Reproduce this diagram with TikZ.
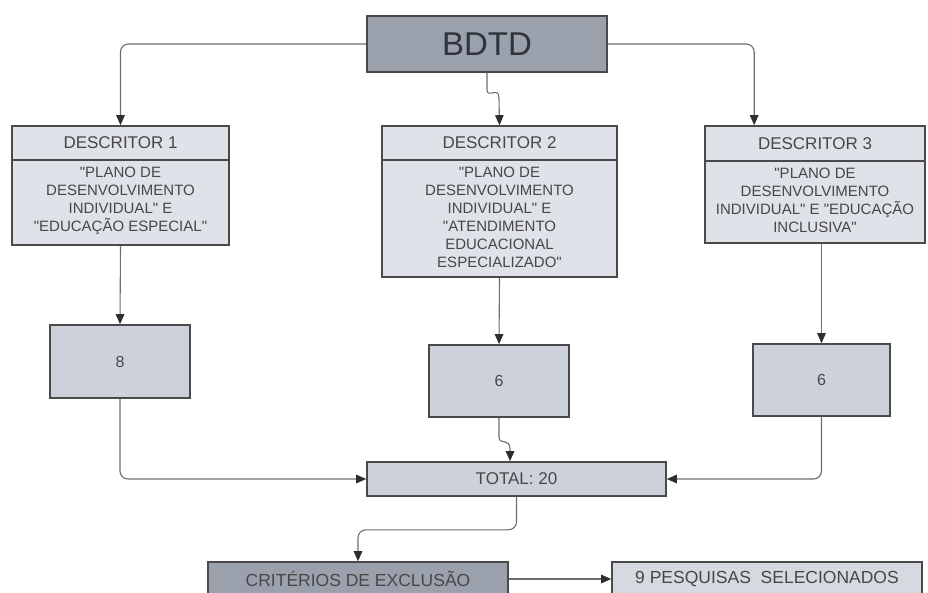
\documentclass[tikz,border=0pt]{standalone}
\usepackage{fontspec}
\setmainfont{Liberation Sans}[Ligatures=TeXOff]
\usetikzlibrary{arrows.meta,calc}
\definecolor{bordercol}{HTML}{4A4A4A}
\definecolor{darkfill}{HTML}{9BA1AC}
\definecolor{lightfill}{HTML}{DFE2E8}
\definecolor{midfill}{HTML}{CDD2DA}
\definecolor{selfill}{HTML}{D5D9E0}
\definecolor{linecol}{HTML}{6E6E6E}
\definecolor{tipcol}{HTML}{2E2E2E}
\definecolor{textcol}{HTML}{474747}
\definecolor{bigtext}{HTML}{2F343C}
\begin{document}
\begin{tikzpicture}[x=1pt,y=-1pt,
  box/.style={draw=bordercol, line width=1.6pt, inner sep=0pt, align=center, text=textcol},
  darkbox/.style={box, fill=darkfill},
  dbox/.style={box, fill=lightfill},
  numbox/.style={box, fill=midfill, font=\fontsize{16}{19}\selectfont},
  headtxt/.style={inner sep=0pt, text=textcol, font=\fontsize{17}{20}\selectfont},
  bodytxt/.style={inner sep=0pt, align=center, text=textcol, font=\fontsize{15}{18}\selectfont},
  divline/.style={draw=bordercol, line width=1.4pt},
  conn/.style={draw=linecol, line width=1.1pt, rounded corners=8pt,
    -{Triangle[length=10pt,width=8.5pt,color=tipcol]}}
]
\useasboundingbox (0,0) rectangle (928,593);
\clip (0,0) rectangle (928,593);
\fill[white] (0,0) rectangle (928,593);

% top box
\node[darkbox, minimum width=240pt, minimum height=56pt, text=bigtext,
      font=\fontsize{33}{36}\selectfont] (bdtd) at (487,44) {BDTD};

% descriptor boxes
\node[dbox, minimum width=217pt, minimum height=119pt] (d1) at (120.5,185.5) {};
\coordinate (d1div) at ($(d1.north)+(0,35)$);
\draw[divline] ($(d1.north west)+(0,35)$) -- ($(d1.north east)+(0,35)$);
\node[headtxt] (d1h) at ($(d1.north)+(0,17.5)$) {DESCRITOR 1};
\node[bodytxt] (d1b) at ($(d1div)!0.5!(d1.south)+(0,-2)$)
  {"PLANO DE\\DESENVOLVIMENTO\\INDIVIDUAL" E\\"EDUCAÇÃO ESPECIAL"};

\node[dbox, minimum width=235pt, minimum height=151pt] (d2) at (499.5,201.5) {};
\coordinate (d2div) at ($(d2.north)+(0,35)$);
\draw[divline] ($(d2.north west)+(0,35)$) -- ($(d2.north east)+(0,35)$);
\node[headtxt] (d2h) at ($(d2.north)+(0,17.5)$) {DESCRITOR 2};
\node[bodytxt] (d2b) at ($(d2div)!0.5!(d2.south)+(0,-2)$)
  {"PLANO DE\\DESENVOLVIMENTO\\INDIVIDUAL" E\\"ATENDIMENTO\\EDUCACIONAL\\ESPECIALIZADO"};

\node[dbox, minimum width=220pt, minimum height=117pt] (d3) at (815,184.5) {};
\coordinate (d3div) at ($(d3.north)+(0,36)$);
\draw[divline] ($(d3.north west)+(0,36)$) -- ($(d3.north east)+(0,36)$);
\node[headtxt] (d3h) at ($(d3.north)+(0,18)$) {DESCRITOR 3};
\node[bodytxt] (d3b) at ($(d3div)!0.5!(d3.south)+(0,-2)$)
  {"PLANO DE\\DESENVOLVIMENTO\\INDIVIDUAL" E "EDUCAÇÃO\\INCLUSIVA"};

% number boxes
\node[numbox, minimum width=140pt, minimum height=73pt] (n8) at (120,361.5) {8};
\node[numbox, minimum width=140pt, minimum height=72pt] (n6a) at (499,381) {6};
\node[numbox, minimum width=137pt, minimum height=72pt] (n6b) at (821.5,380) {6};

% total
\node[box, fill=midfill, minimum width=299pt, minimum height=34pt,
      font=\fontsize{17}{20}\selectfont] (total) at (516.5,479) {TOTAL: 20};

% bottom row
\node[darkbox, minimum width=300pt, minimum height=34pt,
      font=\fontsize{17.5}{20}\selectfont] (crit) at (358,579) {CRITÉRIOS DE EXCLUSÃO};
\node[box, fill=selfill, minimum width=310pt, minimum height=34pt,
      font=\fontsize{17.5}{20}\selectfont] (sel) at (767,579) {9 PESQUISAS\ \ SELECIONADOS};

% connectors
\draw[conn] (bdtd.west) -| (d1.north);
\coordinate (d3in) at ($(d3.north west)+(50,0)$);
\draw[conn] (bdtd.east) -| (d3in);
\draw[conn, sharp corners] (bdtd.south) -- ++(0,17) .. controls ++(0,9) and (499,86) .. (499,98) -- (d2.north);

\draw[conn] (d1.south) -- (n8.north);
\draw[conn] (d2.south) -- (n6a.north);
\draw[conn] (d3.south -| n6b.north) -- (n6b.north);

\draw[conn] (n8.south) |- (total.west);
\draw[conn] (n6b.south) |- (total.east);
\coordinate (tin) at ($(total.north)+(-6.5,0)$);
\draw[conn, sharp corners] (n6a.south) -- ++(0,19) .. controls ++(0,9) and ($(tin)+(0,-24)$) .. ($(tin)+(0,-12)$) -- (tin);

\draw[conn] (total.south) -- ++(0,33) -| (crit.north);
\draw[conn] (crit.east) -- (sel.west);
\end{tikzpicture}
\end{document}
